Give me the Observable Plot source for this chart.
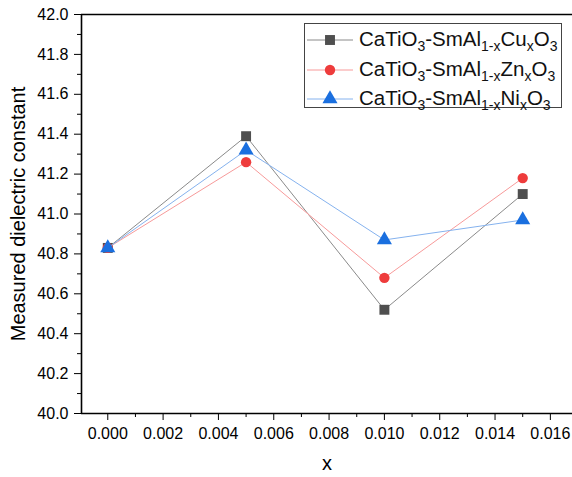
<!DOCTYPE html>
<html>
<head>
<meta charset="utf-8">
<script src="https://cdn.jsdelivr.net/npm/d3@7"></script>
<script src="https://cdn.jsdelivr.net/npm/@observablehq/plot@0.6"></script>
<style>
  html, body { margin: 0; padding: 0; background: #fff; }
  #wrap { position: relative; width: 572px; height: 477px; font-family: "Liberation Sans", Arial, sans-serif; }
  #legend { position: absolute; left: 304px; top: 23px; width: 258px; height: 85px; border: 1px solid #444; background: #fff; box-sizing: border-box; }
  .row { position: absolute; left: 0; height: 28px; width: 100%; }
  .row svg { position: absolute; left: 2px; top: 0; }
  .row span { position: absolute; left: 54px; top: 1px; font-size: 20.5px; color: #111; white-space: nowrap; line-height: 22px; }
  sub { font-size: 14px; vertical-align: -5px; line-height: 0; }
</style>
</head>
<body>
<div id="wrap"></div>
<script>
const xs = [0, 0.005, 0.010, 0.015];
const cuValues = [40.83, 41.39, 40.52, 41.10];
const znValues = [40.83, 41.26, 40.68, 41.18];
const niValues = [40.83, 41.32, 40.87, 40.97];
const seriesNames = ["Cu", "Zn", "Ni"];
const xTicks = [0, 0.002, 0.004, 0.006, 0.008, 0.010, 0.012, 0.014, 0.016];
const xMinorTicks = [-0.001, 0.001, 0.003, 0.005, 0.007, 0.009, 0.011, 0.013, 0.015];
const yTicks = [40.0, 40.2, 40.4, 40.6, 40.8, 41.0, 41.2, 41.4, 41.6, 41.8, 42.0];
const yMinorTicks = [40.1, 40.3, 40.5, 40.7, 40.9, 41.1, 41.3, 41.5, 41.7, 41.9];

const styles = {
  Cu: {line: "#8a8a8a", fill: "#4f4f4f", symbol: "square", r: 5.6},
  Zn: {line: "#f79a9a", fill: "#ee3c3c", symbol: "circle", r: 5.2},
  Ni: {line: "#85b2ee", fill: "#1a6fdf", symbol: "triangle", r: 5.6}
};
const valuesBy = {Cu: cuValues, Zn: znValues, Ni: niValues};
const data = seriesNames.map(s => xs.map((x, i) => ({series: s, x, y: valuesBy[s][i]})));

const xDomain = [-0.00095, 0.0168];
const marks = [
  Plot.axisX({ticks: xTicks, tickFormat: d3.format(".3f"), tickSize: 7, tickPadding: 7, label: null, fontSize: 16}),
  Plot.axisX({ticks: xMinorTicks.filter(t => t > xDomain[0]), tickFormat: () => "", tickSize: 4, label: null}),
  Plot.axisY({ticks: yTicks, tickFormat: d3.format(".1f"), tickSize: 7, tickPadding: 6, label: null, fontSize: 16}),
  Plot.axisY({ticks: yMinorTicks, tickFormat: () => "", tickSize: 4, label: null}),
  Plot.ruleY([40], {stroke: "#000", strokeWidth: 1.6}),
  Plot.ruleY([42], {stroke: "#000", strokeWidth: 1.6}),
  Plot.ruleX([xDomain[0]], {stroke: "#000", strokeWidth: 1.6}),
];
for (const d of data) {
  const st = styles[d[0].series];
  marks.push(Plot.line(d, {x: "x", y: "y", stroke: st.line, strokeWidth: 1}));
  marks.push(Plot.dot(d, {x: "x", y: "y", symbol: () => st.symbol, fill: st.fill, r: st.r, stroke: "none"}));
}
marks.push(Plot.text(["x"], {frameAnchor: "bottom", dy: 56, fontSize: 20, fill: "#000"}));
marks.push(Plot.text(["Measured dielectric constant"], {frameAnchor: "left", dx: -63, rotate: -90, textAnchor: "middle", fontSize: 20, fill: "#000"}));

const chart = Plot.plot({
  width: 572,
  height: 477,
  marginLeft: 81,
  marginRight: 0,
  marginTop: 14,
  marginBottom: 64,
  x: {domain: xDomain},
  y: {domain: [40, 42]},
  style: {fontFamily: "'Liberation Sans', Arial, sans-serif", fontSize: "16px", color: "#000", background: "#fff", overflow: "visible"},
  marks
});
const wrap = document.getElementById("wrap");
wrap.appendChild(chart);

// legend
const legend = document.createElement("div");
legend.id = "legend";
const labels = {
  Cu: 'CaTiO<sub>3</sub>-SmAl<sub>1-x</sub>Cu<sub>x</sub>O<sub>3</sub>',
  Zn: 'CaTiO<sub>3</sub>-SmAl<sub>1-x</sub>Zn<sub>x</sub>O<sub>3</sub>',
  Ni: 'CaTiO<sub>3</sub>-SmAl<sub>1-x</sub>Ni<sub>x</sub>O<sub>3</sub>'
};
seriesNames.forEach((s, i) => {
  const st = styles[s];
  const row = document.createElement("div");
  row.className = "row";
  row.style.top = (3 + i * 29.5) + "px";
  const sym = d3.symbol(st.symbol === "square" ? d3.symbolSquare : st.symbol === "circle" ? d3.symbolCircle : d3.symbolTriangle, Math.PI * st.r * st.r)();
  row.innerHTML = `<svg width="48" height="28"><line x1="0" x2="46" y1="13" y2="13" stroke="${st.line}" stroke-width="1"/><path d="${sym}" transform="translate(23,13)" fill="${st.fill}"/></svg><span>${labels[s]}</span>`;
  legend.appendChild(row);
});
wrap.appendChild(legend);
</script>
</body>
</html>
